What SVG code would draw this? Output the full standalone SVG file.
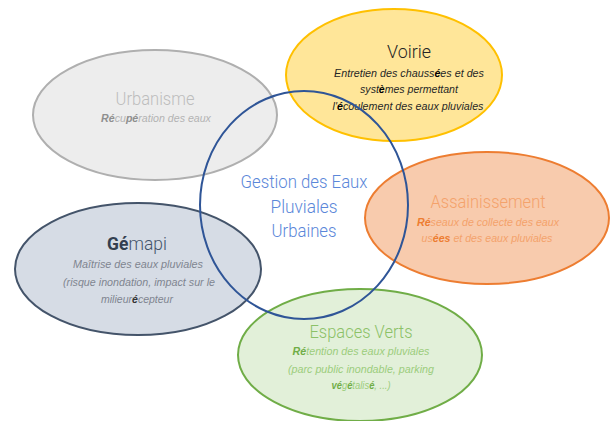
<svg xmlns="http://www.w3.org/2000/svg" width="612" height="421" viewBox="0 0 612 421">
<style>
text{font-family:"Liberation Sans",Arial,sans-serif;text-anchor:middle}
.t{font-family:Roboto,"Liberation Sans",Arial,sans-serif;font-size:19px;font-weight:300}
.s{font-size:11.5px;font-style:italic}
.b{font-weight:bold}
ellipse{stroke-width:2}
</style>
<rect width="612" height="421" fill="#ffffff"/>
<g id="urbanisme">
<ellipse cx="155" cy="115" rx="122" ry="65" fill="#ededed" stroke="#afafaf"/>
<text class="t" x="155" y="105" fill="#bdbdbd" textLength="79" lengthAdjust="spacingAndGlyphs">Urbanisme</text>
<text class="s" transform="translate(156,122) scale(0.925,1)" fill="#b3b3b3"><tspan class="b" fill="#8f8f8f">Ré</tspan>cu<tspan class="b" fill="#8f8f8f">pé</tspan>ration des eaux</text>
</g>
<g id="voirie">
<ellipse cx="394" cy="75" rx="108" ry="66" fill="#ffe699" stroke="#ffc000"/>
<text class="t" x="409" y="58" fill="#262626" textLength="44" lengthAdjust="spacingAndGlyphs">Voirie</text>
<text class="s" transform="translate(409,77) scale(0.935,1)" fill="#262626">Entretien des chauss<tspan class="b" fill="#000">é</tspan>es et des</text>
<text class="s" transform="translate(409,93) scale(0.918,1)" fill="#262626">syst<tspan class="b" fill="#000">è</tspan>mes permettant</text>
<text class="s" transform="translate(408,110) scale(0.932,1)" fill="#262626">l'<tspan class="b" fill="#000">é</tspan>coulement des eaux pluviales</text>
</g>
<g id="assainissement">
<ellipse cx="487" cy="218" rx="122" ry="66" fill="#f8cbad" stroke="#ed7d31"/>
<text class="t" x="488" y="208" fill="#f4a26b" textLength="115" lengthAdjust="spacingAndGlyphs">Assainissement</text>
<text class="s" transform="translate(488,226) scale(0.926,1)" fill="#f4a26b"><tspan class="b" fill="#ed7d31">Ré</tspan>seaux de collecte des eaux</text>
<text class="s" transform="translate(487,242) scale(0.923,1)" fill="#f4a26b">us<tspan class="b" fill="#ed7d31">ées</tspan> et des eaux pluviales</text>
</g>
<g id="gemapi">
<ellipse cx="138" cy="269" rx="123" ry="66" fill="#d6dce5" stroke="#44546a"/>
<text class="t" transform="translate(137,250) scale(0.92,1)" fill="#44546a"><tspan class="b" fill="#333f50">Gé</tspan>mapi</text>
<text class="s" x="138" y="268" fill="#7f8590" textLength="130" lengthAdjust="spacingAndGlyphs">Maîtrise des eaux pluviales</text>
<text class="s" x="139" y="286" fill="#7f8590" textLength="152" lengthAdjust="spacingAndGlyphs">(risque inondation,  impact sur le</text>
<text class="s" transform="translate(137,303) scale(0.916,1)" fill="#7f8590">milieur<tspan class="b" fill="#333">é</tspan>cepteur</text>
</g>
<g id="espaces-verts">
<ellipse cx="360" cy="355" rx="122" ry="66" fill="#e2f0d9" stroke="#70ad47"/>
<text class="t" x="361" y="338" fill="#8cc168" textLength="103" lengthAdjust="spacingAndGlyphs">Espaces Verts</text>
<text class="s" transform="translate(361,355) scale(0.932,1)" fill="#9ccd7c"><tspan class="b" fill="#70ad47">Ré</tspan>tention des eaux pluviales</text>
<text class="s" x="361" y="373" fill="#9ccd7c" textLength="146" lengthAdjust="spacingAndGlyphs">(parc public inondable, parking</text>
<text class="s" transform="translate(361,389) scale(0.82,1)" fill="#9ccd7c"><tspan class="b" fill="#70ad47">vé</tspan>g<tspan class="b" fill="#70ad47">é</tspan>talis<tspan class="b" fill="#70ad47">é</tspan>, ...)</text>
</g>
<g id="gestion">
<ellipse cx="304" cy="205" rx="104" ry="114" fill="none" stroke="#2f5597"/>
<text class="t" x="304" y="188" fill="#5b87d9" textLength="127" lengthAdjust="spacingAndGlyphs">Gestion des Eaux</text>
<text class="t" x="304" y="213" fill="#5b87d9" textLength="67" lengthAdjust="spacingAndGlyphs">Pluviales</text>
<text class="t" x="304" y="237" fill="#5b87d9" textLength="65" lengthAdjust="spacingAndGlyphs">Urbaines</text>
</g>
<g id="connectors"/>
</svg>
